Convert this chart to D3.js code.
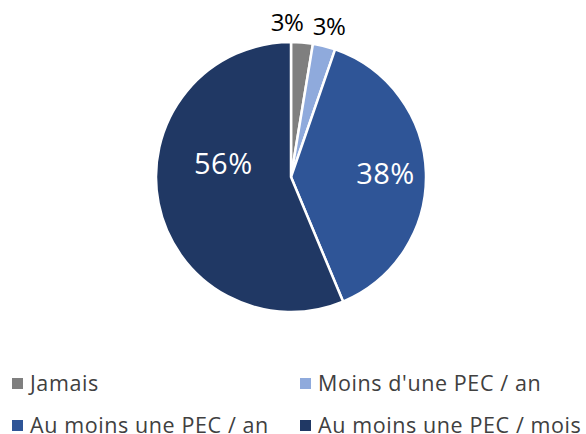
<!DOCTYPE html>
<html>
<head>
<meta charset="utf-8">
<script src="https://cdn.jsdelivr.net/npm/d3@7"></script>
<style>
  body { margin: 0; background: #fff; }
  svg { display: block; }
</style>
</head>
<body>
<div id="chart"></div>
<script>
// data
const categories = ["Jamais", "Moins d'une PEC / an", "Au moins une PEC / an", "Au moins une PEC / mois"];
const values = [2.6, 2.7, 38.4, 56.3];
const colors = ["#7f7f7f", "#8faadc", "#2f5597", "#203864"];

const width = 586;
const height = 434;
const cx = 291, cy = 177, radius = 135;
const font = "'Open Sans', sans-serif";

const svg = d3.select("#chart").append("svg")
  .attr("width", width)
  .attr("height", height);

const g = svg.append("g")
  .attr("transform", "translate(" + cx + "," + cy + ")");

const pie = d3.pie().sort(null).value(d => d);
const arcs = pie(values);
const total = d3.sum(values);

const arc = d3.arc().innerRadius(0).outerRadius(radius);

g.selectAll("path")
  .data(arcs)
  .join("path")
  .attr("d", arc)
  .attr("fill", (d, i) => colors[i])
  .attr("stroke", "#fff")
  .attr("stroke-width", 2.5)
  .attr("stroke-linejoin", "round");

// labels: big slices inside, small ones outside
const inArc = d3.arc().innerRadius(radius * 0.7).outerRadius(radius * 0.7);
const outArc = d3.arc().innerRadius(radius * 1.15).outerRadius(radius * 1.15);

const labels = arcs.map((d, i) => {
  const pct = Math.round(d.value / total * 100) + "%";
  const inside = d.value / total > 0.1;
  let [x, y] = inside ? inArc.centroid(d) : outArc.centroid(d);
  return { pct, inside, x, y, i, size: inside ? 29 : 24 };
});

// nudge the outside labels so they don't overlap
const outs = labels.filter(l => !l.inside);
for (let k = outs.length - 2; k >= 0; k--) {
  const gap = outs[k + 1].x - outs[k].x;
  if (gap < 42) outs[k].x = outs[k + 1].x - 42;
}
// large slice label: Excel pulls it toward the upper part
labels.forEach(l => {
  if (l.inside && l.i === 3) { l.x += 25; l.y -= 32; }
});

g.selectAll("text.lbl")
  .data(labels)
  .join("text")
  .attr("class", "lbl")
  .attr("x", d => d.x)
  .attr("y", d => d.y + d.size * 0.36)
  .attr("text-anchor", "middle")
  .attr("font-family", font)
  .attr("font-size", d => d.size)
  .attr("letter-spacing", d => d.inside ? 0.5 : -0.5)
  .attr("fill", d => d.inside ? "#fff" : "#000")
  .text(d => d.pct);

// legend (second row sits on the bottom edge, as in the original)
const legendCols = [12, 300];
const legendBaselines = [391, 433];
const legend = svg.append("g");
const items = legend.selectAll("g")
  .data(categories)
  .join("g")
  .attr("transform", (d, i) => "translate(" + legendCols[i % 2] + "," + legendBaselines[Math.floor(i / 2)] + ")");

items.append("rect")
  .attr("x", 0)
  .attr("y", -13)
  .attr("width", 11)
  .attr("height", 11)
  .attr("fill", (d, i) => colors[i]);

items.append("text")
  .attr("x", 18)
  .attr("y", 0)
  .attr("font-family", font)
  .attr("font-size", 21.5)
  .attr("letter-spacing", 0.6)
  .attr("fill", "#404040")
  .text(d => d);
</script>
</body>
</html>
